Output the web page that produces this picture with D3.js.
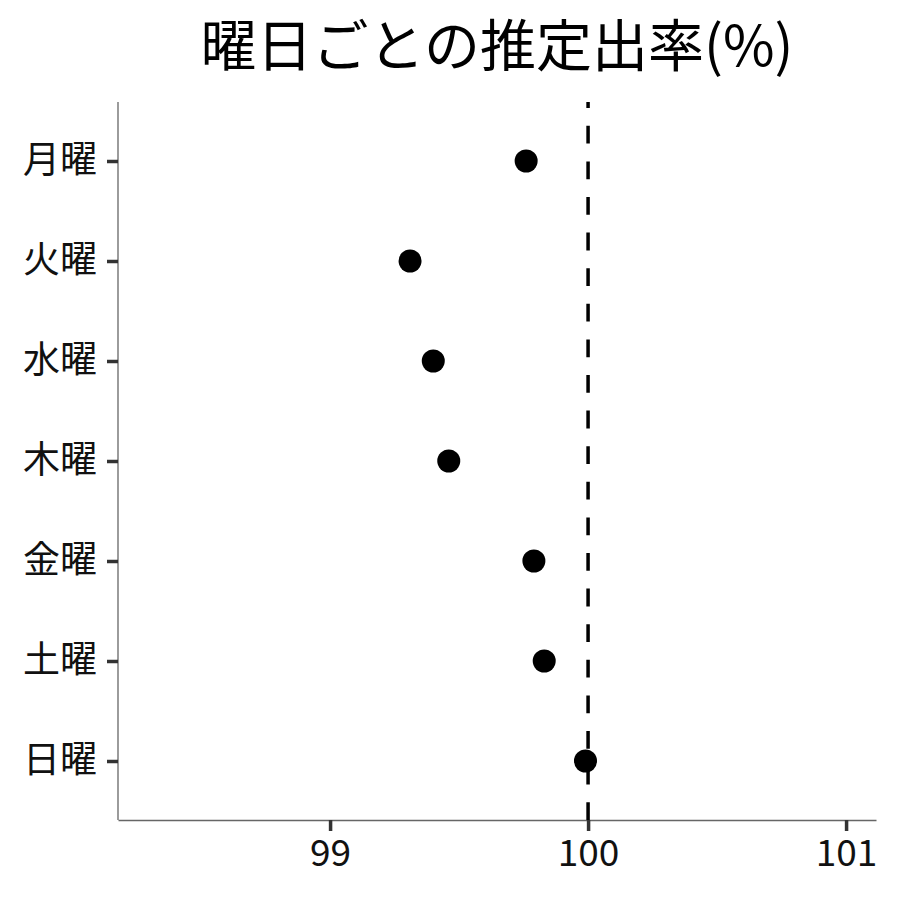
<!DOCTYPE html>
<html>
<head>
<meta charset="utf-8">
<script src="https://cdn.jsdelivr.net/npm/d3@7"></script>
<style>
  body { margin: 0; background: #fff; }
  text { font-family: "Noto Sans CJK JP", "Noto Sans", sans-serif; }
</style>
</head>
<body>
<script>
// Figure dimensions
const W = 900, H = 900;
const margin = { top: 102, right: 24, bottom: 80, left: 118 };

// Data
const DAYS  = ['月曜', '火曜', '水曜', '木曜', '金曜', '土曜', '日曜'];
const RATES = [99.76, 99.31, 99.40, 99.46, 99.79, 99.83, 99.99];
const X_TICKS = [99, 100, 101];
const REF_LINE = 100;
const TITLE = '曜日ごとの推定出率(%)';

// Scales
const x = d3.scaleLinear()
  .domain([98.178, 101.116])
  .range([margin.left, W - margin.right]);
const y = d3.scalePoint()
  .domain(DAYS)
  .range([margin.top, H - margin.bottom])
  .padding(0.59);

const svg = d3.select('body').append('svg')
  .attr('width', W)
  .attr('height', H);

// Title
svg.append('text')
  .attr('x', (x.range()[0] + x.range()[1]) / 2)
  .attr('y', 66)
  .attr('text-anchor', 'middle')
  .attr('font-size', 56)
  .attr('fill', '#000')
  .text(TITLE);

// Axes
const FONT = '"Noto Sans CJK JP", "Noto Sans", sans-serif';

const xAxis = g => g
  .attr('transform', `translate(0, ${H - margin.bottom})`)
  .call(d3.axisBottom(x).tickValues(X_TICKS).tickFormat(d3.format('d'))
    .tickSize(11).tickSizeOuter(0).tickPadding(9))
  .call(g => g.select('.domain').attr('stroke', '#666').attr('stroke-width', 1.3))
  .call(g => g.selectAll('.tick line').attr('stroke', '#333').attr('stroke-width', 3.5))
  .call(g => g.selectAll('.tick text')
    .attr('font-size', 37).attr('fill', '#111').attr('font-family', FONT));

const yAxis = g => g
  .attr('transform', `translate(${margin.left}, 0)`)
  .call(d3.axisLeft(y).tickSize(11).tickSizeOuter(0).tickPadding(10))
  .call(g => g.select('.domain').attr('stroke', '#666').attr('stroke-width', 1.3)
    .attr('d', `M0,${margin.top}V${H - margin.bottom}`))
  .call(g => g.selectAll('.tick line').attr('stroke', '#333').attr('stroke-width', 3.5))
  .call(g => g.selectAll('.tick text')
    .attr('font-size', 37).attr('fill', '#111').attr('font-family', FONT));

svg.append('g').call(xAxis);
svg.append('g').call(yAxis);

// Reference line (drawn bottom-up so the dash pattern starts at the axis)
svg.append('line')
  .attr('x1', x(REF_LINE))
  .attr('x2', x(REF_LINE))
  .attr('y1', H - margin.bottom)
  .attr('y2', margin.top)
  .attr('stroke', '#000')
  .attr('stroke-width', 3.5)
  .attr('stroke-dasharray', '17.8,17.8');

// Points
svg.append('g')
  .selectAll('circle')
  .data(DAYS.map((d, i) => ({ day: d, rate: RATES[i] })))
  .join('circle')
    .attr('cx', d => x(d.rate))
    .attr('cy', d => y(d.day))
    .attr('r', 11.5)
    .attr('fill', '#000');
</script>
</body>
</html>
